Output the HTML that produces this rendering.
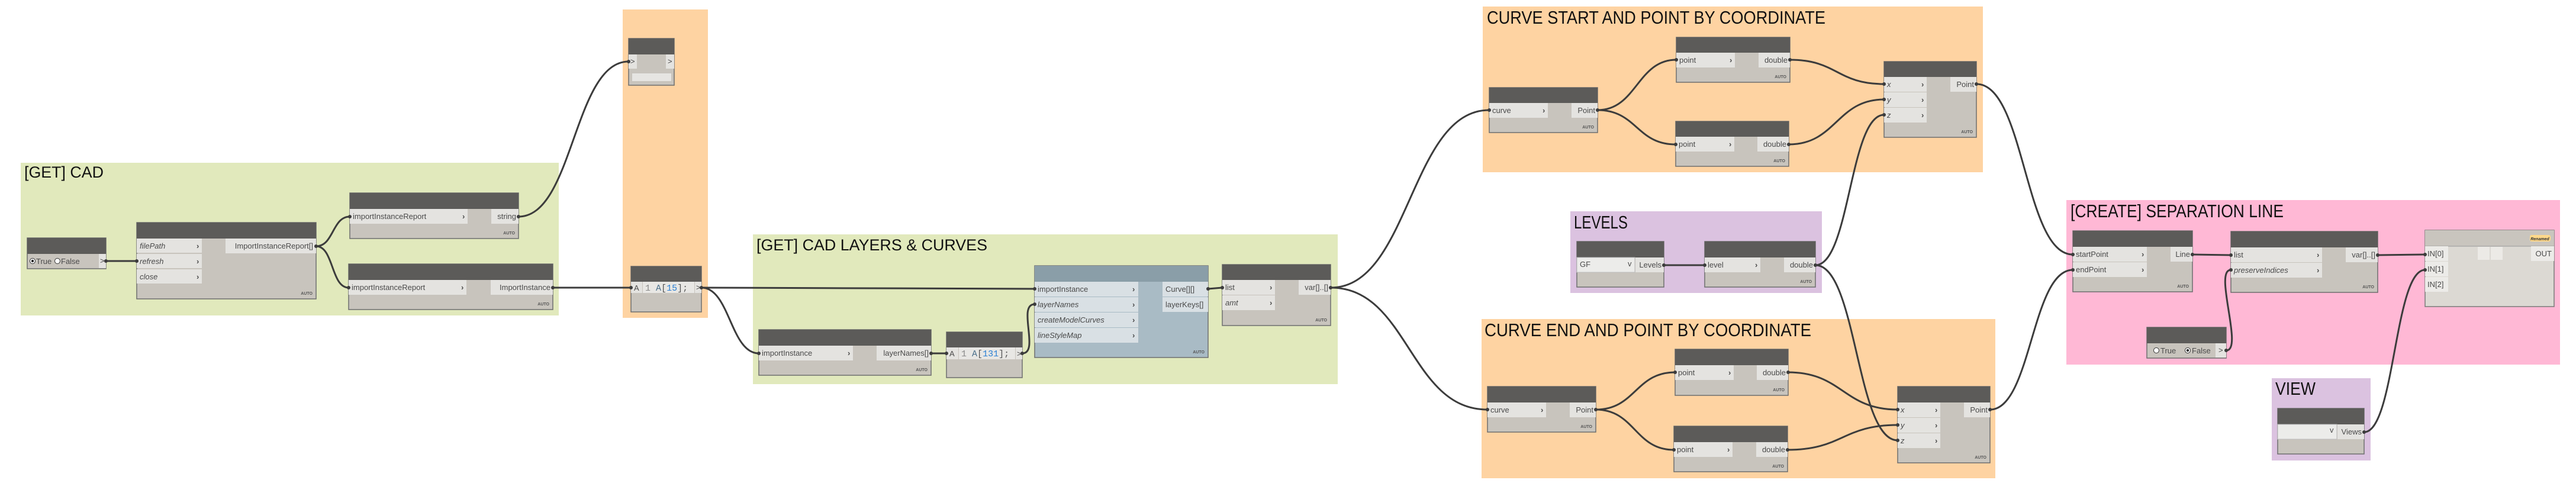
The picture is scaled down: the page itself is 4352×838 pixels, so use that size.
<!DOCTYPE html>
<html><head><meta charset="utf-8"><style>
html,body{margin:0;padding:0;background:#fff;}
svg{display:block}
.b{fill:#c8c4bd;stroke:#6e6e6e;stroke-width:1.5}
.h{fill:#5c5b59}
.r{fill:#e4e3e0}
.t{font-family:"Liberation Sans",sans-serif;font-size:13px;fill:#4a4a4a}
.i{font-style:italic}
.c{font-family:"Liberation Sans",sans-serif;font-size:13px;font-weight:bold;fill:#4a4a4a}
.a{font-family:"Liberation Sans",sans-serif;font-size:7px;font-weight:bold;fill:#555}
.g{font-family:"Liberation Sans",sans-serif;fill:#111}
.m{font-family:"Liberation Mono",monospace;font-size:15px;fill:#555}
.w{fill:none;stroke:#3c3c3c;stroke-width:3}
.p{fill:#3c3c3c}
</style></head><body>
<svg width="4352" height="838" viewBox="0 0 4352 838" xmlns="http://www.w3.org/2000/svg">
<!-- groups -->
<rect x="35" y="275" width="909" height="258" fill="#e1e9bc"/>
<text class="g" x="41" y="300" font-size="27" textLength="134" lengthAdjust="spacingAndGlyphs">[GET] CAD</text>
<rect x="1052" y="16" width="144" height="521" fill="#fed3a2"/>
<rect x="1272" y="396" width="988" height="253" fill="#e1e9bc"/>
<text class="g" x="1278" y="423" font-size="27" textLength="390" lengthAdjust="spacingAndGlyphs">[GET] CAD LAYERS &amp; CURVES</text>
<rect x="2505" y="11" width="845" height="280" fill="#fed3a2"/>
<text class="g" x="2512" y="40" font-size="31" textLength="572" lengthAdjust="spacingAndGlyphs">CURVE START AND POINT BY COORDINATE</text>
<rect x="2653" y="357" width="425" height="138" fill="#dbc2e0"/>
<text class="g" x="2659" y="386" font-size="31" textLength="91" lengthAdjust="spacingAndGlyphs">LEVELS</text>
<rect x="2503" y="539" width="868" height="269" fill="#fed3a2"/>
<text class="g" x="2508" y="568" font-size="31" textLength="552" lengthAdjust="spacingAndGlyphs">CURVE END AND POINT BY COORDINATE</text>
<rect x="3491" y="338" width="834" height="278" fill="#ffb8d5"/>
<text class="g" x="3498" y="367" font-size="31" textLength="360" lengthAdjust="spacingAndGlyphs">[CREATE] SEPARATION LINE</text>
<rect x="3838" y="639" width="167" height="139" fill="#dbc2e0"/>
<text class="g" x="3844" y="667" font-size="31" textLength="68" lengthAdjust="spacingAndGlyphs">VIEW</text>

<!-- wires -->
<path class="w" d="M179 441 L231 441"/>
<path class="w" d="M534 416 C564 416,561 366,591 366"/>
<path class="w" d="M534 416 C564 416,559 486,589 486"/>
<path class="w" d="M876 366 C969 366,969 104,1062 104"/>
<path class="w" d="M934 486 L1066 486"/>
<path class="w" d="M1185 486 C1400 486,1500 488,1748 488"/>
<path class="w" d="M1185 486 C1233 486,1234 597,1282 597"/>
<path class="w" d="M1573 597 L1599 597"/>
<path class="w" d="M1727 597 C1757 597,1718 514,1748 514"/>
<path class="w" d="M2041 488 L2065 486"/>
<path class="w" d="M2248 486 C2382 486,2382 186,2516 186"/>
<path class="w" d="M2248 486 C2380 486,2381 692,2513 692"/>
<path class="w" d="M2699 186 C2765 186,2766 101,2832 101"/>
<path class="w" d="M2699 186 C2765 186,2765 244,2831 244"/>
<path class="w" d="M3024 101 C3104 101,3103 142,3183 142"/>
<path class="w" d="M3022 244 C3102 244,3103 168,3183 168"/>
<path class="w" d="M3067 448 C3125 448,3125 194,3183 194"/>
<path class="w" d="M3067 448 C3137 448,3136 744,3206 744"/>
<path class="w" d="M2696 692 C2763 692,2763 629,2830 629"/>
<path class="w" d="M2696 692 C2762 692,2762 760,2828 760"/>
<path class="w" d="M3021 629 C3113 629,3114 692,3206 692"/>
<path class="w" d="M3020 760 C3113 760,3113 718,3206 718"/>
<path class="w" d="M3339 142 C3421 142,3420 430,3502 430"/>
<path class="w" d="M3362 692 C3432 692,3432 456,3502 456"/>
<path class="w" d="M3704 430 L3769 431"/>
<path class="w" d="M4017 431 L4097 430"/>
<path class="w" d="M3761 592 C3791 592,3739 456,3769 456"/>
<path class="w" d="M3994 730 C4046 730,4045 456,4097 456"/>
<path class="w" d="M2811 448 L2880 448"/>

<!-- Bool 1 -->
<rect class="b" x="46" y="402" width="133" height="52"/><rect class="h" x="46" y="402" width="133" height="27"/>
<circle cx="55" cy="441" r="4.5" fill="#fff" stroke="#333"/><circle cx="55" cy="441" r="2.2" fill="#222"/>
<text class="t" x="61" y="446">True</text>
<circle cx="97" cy="441" r="4.5" fill="#fff" stroke="#333"/>
<text class="t" x="103" y="446">False</text>
<rect class="r" x="167" y="429" width="12" height="24"/><text class="t" x="169" y="445">&gt;</text>

<!-- Node B -->
<rect class="b" x="231" y="376" width="303" height="129"/><rect class="h" x="231" y="376" width="303" height="27"/>
<rect class="r" x="231" y="403" width="110" height="24"/><text class="t i" x="236" y="420">filePath</text><text class="c" x="332" y="420">›</text>
<rect class="r" x="231" y="429" width="110" height="24"/><text class="t i" x="236" y="446">refresh</text><text class="c" x="332" y="446">›</text>
<rect class="r" x="231" y="455" width="110" height="24"/><text class="t i" x="236" y="472">close</text><text class="c" x="332" y="472">›</text>
<rect class="r" x="381" y="403" width="153" height="25"/><text class="t" x="529" y="420" text-anchor="end">ImportInstanceReport[]</text>
<text class="a" x="528" y="498" text-anchor="end">AUTO</text>

<!-- Node C -->
<rect class="b" x="591" y="326" width="285" height="77"/><rect class="h" x="591" y="326" width="285" height="27"/>
<rect class="r" x="591" y="353" width="199" height="25"/><text class="t" x="596" y="370">importInstanceReport</text><text class="c" x="781" y="370">›</text>
<rect class="r" x="830" y="353" width="46" height="25"/><text class="t" x="872" y="370" text-anchor="end">string</text>
<text class="a" x="870" y="396" text-anchor="end">AUTO</text>

<!-- Node D -->
<rect class="b" x="589" y="446" width="345" height="77"/><rect class="h" x="589" y="446" width="345" height="27"/>
<rect class="r" x="589" y="473" width="199" height="25"/><text class="t" x="594" y="490">importInstanceReport</text><text class="c" x="779" y="490">›</text>
<rect class="r" x="829" y="473" width="105" height="25"/><text class="t" x="930" y="490" text-anchor="end">ImportInstance</text>
<text class="a" x="928" y="516" text-anchor="end">AUTO</text>

<!-- Watch node -->
<rect class="b" x="1062" y="65" width="77" height="79"/><rect class="h" x="1062" y="65" width="77" height="27"/>
<rect class="r" x="1062" y="92" width="14" height="24"/><text class="t" x="1065" y="108">&gt;</text>
<rect class="r" x="1125" y="92" width="14" height="24"/><text class="t" x="1128" y="108">&gt;</text>
<rect x="1068" y="124" width="66" height="13" fill="#e6e5e2"/>

<!-- Code A -->
<rect class="b" x="1066" y="450" width="119" height="77"/><rect class="h" x="1066" y="450" width="119" height="26"/>
<rect class="r" x="1066" y="476" width="19" height="19"/><text class="t" x="1071" y="491">A</text>
<rect x="1086" y="476" width="87" height="19" fill="#e8e7e4"/>
<text class="m" x="1090" y="491"><tspan fill="#888">1</tspan> <tspan fill="#4a6f8a">A</tspan>[<tspan fill="#2a7fd4">15</tspan>];</text>
<rect class="r" x="1174" y="476" width="11" height="19"/><text class="t" x="1176" y="490">&gt;</text>

<!-- layerNames node -->
<rect class="b" x="1282" y="557" width="291" height="77"/><rect class="h" x="1282" y="557" width="291" height="27"/>
<rect class="r" x="1282" y="584" width="159" height="25"/><text class="t" x="1287" y="601">importInstance</text><text class="c" x="1432" y="601">›</text>
<rect class="r" x="1481" y="584" width="92" height="25"/><text class="t" x="1569" y="601" text-anchor="end">layerNames[]</text>
<text class="a" x="1567" y="627" text-anchor="end">AUTO</text>

<!-- Code 2 -->
<rect class="b" x="1599" y="561" width="128" height="77"/><rect class="h" x="1599" y="561" width="128" height="26"/>
<rect class="r" x="1599" y="587" width="20" height="20"/><text class="t" x="1604" y="602">A</text>
<rect x="1620" y="587" width="95" height="20" fill="#e8e7e4"/>
<text class="m" x="1624" y="602"><tspan fill="#888">1</tspan> <tspan fill="#4a6f8a">A</tspan>[<tspan fill="#2a7fd4">131</tspan>];</text>
<rect class="r" x="1716" y="587" width="11" height="20"/><text class="t" x="1718" y="602">&gt;</text>

<!-- Blue node -->
<rect x="1748" y="449" width="293" height="155" fill="#a9bbc5" stroke="#6e6e6e" stroke-width="1.5"/><rect x="1748" y="449" width="293" height="27" fill="#8a9ea8"/>
<rect x="1748" y="476" width="175" height="25" fill="#d9e0e4"/><text class="t" x="1753" y="493">importInstance</text><text class="c" x="1913" y="493">›</text>
<rect x="1748" y="502" width="175" height="25" fill="#d9e0e4"/><text class="t i" x="1753" y="519">layerNames</text><text class="c" x="1913" y="519">›</text>
<rect x="1748" y="528" width="175" height="25" fill="#d9e0e4"/><text class="t i" x="1753" y="545">createModelCurves</text><text class="c" x="1913" y="545">›</text>
<rect x="1748" y="554" width="175" height="25" fill="#d9e0e4"/><text class="t i" x="1753" y="571">lineStyleMap</text><text class="c" x="1913" y="571">›</text>
<rect x="1964" y="476" width="77" height="25" fill="#d9e0e4"/><text class="t" x="1969" y="493">Curve[][]</text>
<rect x="1964" y="502" width="77" height="25" fill="#d9e0e4"/><text class="t" x="1969" y="519">layerKeys[]</text>
<text class="a" x="2035" y="597" text-anchor="end">AUTO</text>

<!-- List node -->
<rect class="b" x="2065" y="447" width="183" height="103"/><rect class="h" x="2065" y="447" width="183" height="26"/>
<rect class="r" x="2065" y="473" width="89" height="25"/><text class="t" x="2070" y="490">list</text><text class="c" x="2145" y="490">›</text>
<rect class="r" x="2065" y="499" width="89" height="25"/><text class="t i" x="2070" y="516">amt</text><text class="c" x="2145" y="516">›</text>
<rect class="r" x="2194" y="473" width="54" height="25"/><text class="t" x="2244" y="490" text-anchor="end">var[]..[]</text>
<text class="a" x="2242" y="543" text-anchor="end">AUTO</text>

<!-- curve1 -->
<rect class="b" x="2516" y="148" width="183" height="76"/><rect class="h" x="2516" y="148" width="183" height="26"/>
<rect class="r" x="2516" y="174" width="99" height="25"/><text class="t" x="2521" y="191">curve</text><text class="c" x="2606" y="191">›</text>
<rect class="r" x="2655" y="174" width="44" height="25"/><text class="t" x="2695" y="191" text-anchor="end">Point</text>
<text class="a" x="2693" y="217" text-anchor="end">AUTO</text>
<!-- pd1 -->
<rect class="b" x="2832" y="63" width="192" height="76"/><rect class="h" x="2832" y="63" width="192" height="26"/>
<rect class="r" x="2832" y="89" width="99" height="25"/><text class="t" x="2837" y="106">point</text><text class="c" x="2922" y="106">›</text>
<rect class="r" x="2971" y="89" width="53" height="25"/><text class="t" x="3020" y="106" text-anchor="end">double</text>
<text class="a" x="3018" y="132" text-anchor="end">AUTO</text>
<!-- pd2 -->
<rect class="b" x="2831" y="205" width="191" height="76"/><rect class="h" x="2831" y="205" width="191" height="26"/>
<rect class="r" x="2831" y="231" width="99" height="25"/><text class="t" x="2836" y="248">point</text><text class="c" x="2921" y="248">›</text>
<rect class="r" x="2969" y="231" width="53" height="25"/><text class="t" x="3018" y="248" text-anchor="end">double</text>
<text class="a" x="3016" y="274" text-anchor="end">AUTO</text>
<!-- xyz1 -->
<rect class="b" x="3183" y="104" width="156" height="128"/><rect class="h" x="3183" y="104" width="156" height="26"/>
<rect class="r" x="3183" y="130" width="72" height="25"/><text class="t i" x="3188" y="147">x</text><text class="c" x="3246" y="147">›</text>
<rect class="r" x="3183" y="156" width="72" height="25"/><text class="t i" x="3188" y="173">y</text><text class="c" x="3246" y="173">›</text>
<rect class="r" x="3183" y="182" width="72" height="25"/><text class="t i" x="3188" y="199">z</text><text class="c" x="3246" y="199">›</text>
<rect class="r" x="3295" y="130" width="44" height="25"/><text class="t" x="3335" y="147" text-anchor="end">Point</text>
<text class="a" x="3333" y="225" text-anchor="end">AUTO</text>

<!-- GF -->
<rect class="b" x="2664" y="408" width="147" height="77"/><rect class="h" x="2664" y="408" width="147" height="27"/>
<rect x="2664" y="435" width="98" height="25" fill="#ececea" stroke="#bdbdbd"/><text class="t" x="2669" y="451" fill="#222">GF</text><text class="t" x="2750" y="450" font-size="9">v</text>
<rect class="r" x="2763" y="435" width="48" height="25"/><text class="t" x="2807" y="452" text-anchor="end">Levels</text>
<!-- level -->
<rect class="b" x="2880" y="408" width="187" height="77"/><rect class="h" x="2880" y="408" width="187" height="27"/>
<rect class="r" x="2880" y="435" width="94" height="25"/><text class="t" x="2885" y="452">level</text><text class="c" x="2965" y="452">›</text>
<rect class="r" x="3014" y="435" width="53" height="25"/><text class="t" x="3063" y="452" text-anchor="end">double</text>
<text class="a" x="3061" y="478" text-anchor="end">AUTO</text>

<!-- curve2 -->
<rect class="b" x="2513" y="653" width="183" height="77"/><rect class="h" x="2513" y="653" width="183" height="27"/>
<rect class="r" x="2513" y="680" width="99" height="25"/><text class="t" x="2518" y="697">curve</text><text class="c" x="2603" y="697">›</text>
<rect class="r" x="2652" y="680" width="44" height="25"/><text class="t" x="2692" y="697" text-anchor="end">Point</text>
<text class="a" x="2690" y="723" text-anchor="end">AUTO</text>
<!-- pd3 -->
<rect class="b" x="2830" y="590" width="191" height="78"/><rect class="h" x="2830" y="590" width="191" height="27"/>
<rect class="r" x="2830" y="617" width="99" height="25"/><text class="t" x="2835" y="634">point</text><text class="c" x="2920" y="634">›</text>
<rect class="r" x="2968" y="617" width="53" height="25"/><text class="t" x="3017" y="634" text-anchor="end">double</text>
<text class="a" x="3015" y="661" text-anchor="end">AUTO</text>
<!-- pd4 -->
<rect class="b" x="2828" y="720" width="192" height="77"/><rect class="h" x="2828" y="720" width="192" height="27"/>
<rect class="r" x="2828" y="747" width="99" height="25"/><text class="t" x="2833" y="764">point</text><text class="c" x="2918" y="764">›</text>
<rect class="r" x="2967" y="747" width="53" height="25"/><text class="t" x="3016" y="764" text-anchor="end">double</text>
<text class="a" x="3014" y="790" text-anchor="end">AUTO</text>
<!-- xyz2 -->
<rect class="b" x="3206" y="653" width="156" height="129"/><rect class="h" x="3206" y="653" width="156" height="27"/>
<rect class="r" x="3206" y="680" width="72" height="25"/><text class="t i" x="3211" y="697">x</text><text class="c" x="3269" y="697">›</text>
<rect class="r" x="3206" y="706" width="72" height="25"/><text class="t i" x="3211" y="723">y</text><text class="c" x="3269" y="723">›</text>
<rect class="r" x="3206" y="732" width="72" height="25"/><text class="t i" x="3211" y="749">z</text><text class="c" x="3269" y="749">›</text>
<rect class="r" x="3318" y="680" width="44" height="25"/><text class="t" x="3358" y="697" text-anchor="end">Point</text>
<text class="a" x="3356" y="775" text-anchor="end">AUTO</text>

<!-- Line node -->
<rect class="b" x="3502" y="390" width="202" height="103"/><rect class="h" x="3502" y="390" width="202" height="27"/>
<rect class="r" x="3502" y="417" width="125" height="25"/><text class="t" x="3507" y="434">startPoint</text><text class="c" x="3618" y="434">›</text>
<rect class="r" x="3502" y="443" width="125" height="25"/><text class="t" x="3507" y="460">endPoint</text><text class="c" x="3618" y="460">›</text>
<rect class="r" x="3667" y="417" width="37" height="25"/><text class="t" x="3700" y="434" text-anchor="end">Line</text>
<text class="a" x="3698" y="486" text-anchor="end">AUTO</text>
<!-- List clean node -->
<rect class="b" x="3769" y="391" width="248" height="103"/><rect class="h" x="3769" y="391" width="248" height="27"/>
<rect class="r" x="3769" y="418" width="154" height="25"/><text class="t" x="3774" y="435">list</text><text class="c" x="3914" y="435">›</text>
<rect class="r" x="3769" y="444" width="154" height="25"/><text class="t i" x="3774" y="461">preserveIndices</text><text class="c" x="3914" y="461">›</text>
<rect class="r" x="3963" y="418" width="54" height="25"/><text class="t" x="4013" y="435" text-anchor="end">var[]..[]</text>
<text class="a" x="4011" y="487" text-anchor="end">AUTO</text>
<!-- Python node -->
<rect x="4097" y="389" width="218" height="129" fill="#dcd9d3" stroke="#7a7a7a" stroke-width="1.5"/>
<rect x="4097" y="389" width="218" height="27" fill="#c9c5be"/>
<line x1="4097" y1="416" x2="4315" y2="416" stroke="#999"/>
<rect x="4274" y="397" width="35" height="11" rx="3" fill="#ffd88a"/>
<text x="4291" y="406" text-anchor="middle" font-family="Liberation Sans,sans-serif" font-size="7" font-style="italic" font-weight="bold" fill="#333">Renamed</text>
<rect x="4097" y="416" width="39" height="25" fill="#ecebe8"/><text class="t" x="4101" y="433">IN[0]</text>
<rect x="4097" y="442" width="39" height="25" fill="#ecebe8"/><text class="t" x="4101" y="459">IN[1]</text>
<rect x="4097" y="468" width="39" height="25" fill="#ecebe8"/><text class="t" x="4101" y="485">IN[2]</text>
<rect x="4186" y="417" width="20" height="22" fill="#eceae6"/><rect x="4208" y="417" width="20" height="22" fill="#eceae6"/>
<rect x="4276" y="416" width="39" height="25" fill="#ecebe8"/><text class="t" x="4311" y="433" text-anchor="end">OUT</text>
<!-- Bool 2 -->
<rect class="b" x="3627" y="553" width="134" height="52"/><rect class="h" x="3627" y="553" width="134" height="27"/>
<circle cx="3643" cy="592" r="4.5" fill="#fff" stroke="#333"/>
<text class="t" x="3650" y="597">True</text>
<circle cx="3696" cy="592" r="4.5" fill="#fff" stroke="#333"/><circle cx="3696" cy="592" r="2.2" fill="#222"/>
<text class="t" x="3703" y="597">False</text>
<rect class="r" x="3743" y="580" width="18" height="24"/><text class="t" x="3748" y="596">&gt;</text>
<!-- Views -->
<rect class="b" x="3848" y="690" width="146" height="77"/><rect class="h" x="3848" y="690" width="146" height="27"/>
<rect x="3848" y="717" width="100" height="25" fill="#ececea" stroke="#bdbdbd"/><text class="t" x="3936" y="731" font-size="9">v</text>
<rect class="r" x="3949" y="717" width="45" height="25"/><text class="t" x="3990" y="734" text-anchor="end">Views</text>

<!-- port dots -->
<g class="p">
<circle cx="179" cy="441" r="3"/><circle cx="231" cy="441" r="3"/><circle cx="534" cy="416" r="3"/>
<circle cx="591" cy="366" r="3"/><circle cx="589" cy="486" r="3"/><circle cx="876" cy="366" r="3"/><circle cx="934" cy="486" r="3"/>
<circle cx="1062" cy="104" r="3"/><circle cx="1066" cy="486" r="3"/><circle cx="1185" cy="486" r="3"/>
<circle cx="1282" cy="597" r="3"/><circle cx="1573" cy="597" r="3"/><circle cx="1599" cy="597" r="3"/><circle cx="1727" cy="597" r="3"/>
<circle cx="1748" cy="488" r="3"/><circle cx="1748" cy="514" r="3"/><circle cx="2041" cy="488" r="3"/><circle cx="2065" cy="486" r="3"/><circle cx="2248" cy="486" r="3"/>
<circle cx="2516" cy="186" r="3"/><circle cx="2513" cy="692" r="3"/><circle cx="2699" cy="186" r="3"/><circle cx="2696" cy="692" r="3"/>
<circle cx="2832" cy="101" r="3"/><circle cx="2831" cy="244" r="3"/><circle cx="2830" cy="629" r="3"/><circle cx="2828" cy="760" r="3"/>
<circle cx="3024" cy="101" r="3"/><circle cx="3022" cy="244" r="3"/><circle cx="3021" cy="629" r="3"/><circle cx="3020" cy="760" r="3"/>
<circle cx="3183" cy="142" r="3"/><circle cx="3183" cy="168" r="3"/><circle cx="3183" cy="194" r="3"/>
<circle cx="3206" cy="692" r="3"/><circle cx="3206" cy="718" r="3"/><circle cx="3206" cy="744" r="3"/>
<circle cx="3339" cy="142" r="3"/><circle cx="3362" cy="692" r="3"/><circle cx="3067" cy="448" r="3"/><circle cx="2811" cy="448" r="3"/><circle cx="2880" cy="448" r="3"/>
<circle cx="3502" cy="430" r="3"/><circle cx="3502" cy="456" r="3"/><circle cx="3704" cy="430" r="3"/><circle cx="3769" cy="431" r="3"/><circle cx="3769" cy="456" r="3"/>
<circle cx="4017" cy="431" r="3"/><circle cx="4097" cy="430" r="3"/><circle cx="4097" cy="456" r="3"/><circle cx="3761" cy="592" r="3"/><circle cx="3994" cy="730" r="3"/>
</g>
</svg>
</body></html>
